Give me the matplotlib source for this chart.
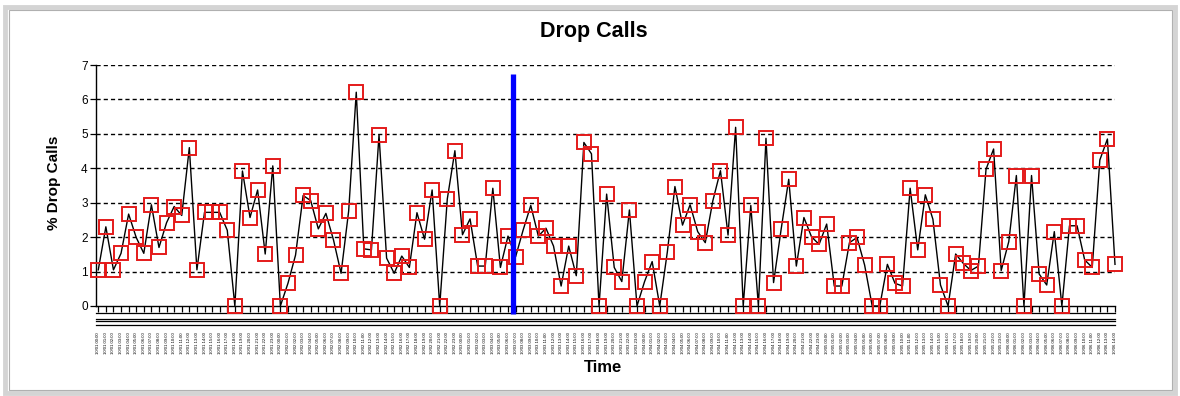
import numpy as np
import pandas as pd
import matplotlib
matplotlib.use('Agg')
import matplotlib.pyplot as plt
from matplotlib.patches import Rectangle

plt.rcParams['font.family'] = ['Liberation Sans', 'DejaVu Sans']

# % drop calls per time sample
drop_pct = [1.05, 2.3, 1.05, 1.53, 2.67, 1.99, 1.53, 2.94, 1.7, 2.42,
            2.89, 2.63, 4.6, 1.05, 2.72, 2.72, 2.72, 2.2, 0, 3.92,
            2.57, 3.37, 1.51, 4.07, 0, 0.66, 1.48, 3.21, 3.06, 2.24,
            2.69, 1.92, 0.95, 2.76, 6.21, 1.66, 1.63, 4.97, 1.39, 0.95,
            1.45, 1.12, 2.71, 1.94, 3.37, 0, 3.11, 4.51, 2.07, 2.53,
            1.16, 1.16, 3.42, 1.12, 2.03, 1.43, 2.21, 2.92, 2.03, 2.26,
            1.74, 0.58, 1.74, 0.88, 4.75, 4.42, 0, 3.25, 1.12, 0.71,
            2.79, 0, 0.71, 1.29, 0, 1.57, 3.47, 2.35, 2.94, 2.16,
            1.84, 3.06, 3.93, 2.06, 5.19, 0, 2.92, 0, 4.87, 0.68,
            2.23, 3.68, 1.16, 2.57, 2.01, 1.79, 2.38, 0.58, 0.58, 1.84,
            1.99, 1.19, 0, 0, 1.21, 0.66, 0.58, 3.42, 1.63, 3.23,
            2.52, 0.61, 0, 1.51, 1.24, 1.03, 1.16, 3.97, 4.56, 1.03,
            1.87, 3.79, 0, 3.79, 0.93, 0.61, 2.16, 0, 2.33, 2.33,
            1.34, 1.12, 4.24, 4.85, 1.21]

# time labels (unreadable in the original, hourly stamps)
time_labels = list(pd.date_range('2007-10-01 00:00', periods=len(drop_pct), freq='h').strftime('%m/%d %H:%M'))

# marker position of the blue vertical line (between samples 54 and 55)
marker_pos = 54.65
marker_top = 6.73
marker_bottom = -0.24

y_ticks = [0, 1, 2, 3, 4, 5, 6, 7]

W, H = 1180, 396
fig = plt.figure(figsize=(W / 100, H / 100), dpi=100)
fig.patch.set_facecolor('white')

# grey frame round the chart
fig.patches.append(Rectangle((5 / W, 3 / H), 1170 / W, 386 / H, transform=fig.transFigure,
                             fill=False, edgecolor='#d4d4d4', lw=3.5))
fig.patches.append(Rectangle((8.5 / W, 6 / H), 1163 / W, 380 / H, transform=fig.transFigure,
                             fill=False, edgecolor='#b0b0b0', lw=0.8))

ax = fig.add_axes([96 / W, 1 - 306 / H, (1115 - 96) / W, 241 / H])
x = np.arange(len(drop_pct))

ax.plot(x, drop_pct, color='black', lw=1.0, zorder=3, clip_on=False)
ax.plot(x, drop_pct, ls='none', marker='s', ms=9.6, mfc='none', mec='#e41a1a', mew=1.4,
        zorder=4, clip_on=False)

ax.vlines(marker_pos, marker_bottom, marker_top, color='#0000ff', lw=3.8, zorder=5, clip_on=False)

ax.set_xlim(-0.3, len(drop_pct) - 1)
ax.set_ylim(0, 7)
ax.set_yticks(y_ticks)
ax.set_yticklabels([str(t) for t in y_ticks], fontsize=8.5)
for t in y_ticks[1:]:
    ax.axhline(t, color='black', lw=1.0, ls=(0, (3.0, 2.2)), zorder=1)

ax.set_xticks(x)
ax.set_xticklabels(time_labels, rotation=90, fontsize=3.1, color='black')
ax.tick_params(axis='x', direction='out', length=4, width=0.9, pad=15)
ax.tick_params(axis='y', direction='out', length=4, width=0.9, pad=2)

for s in ['top', 'right']:
    ax.spines[s].set_visible(False)
ax.spines['left'].set_linewidth(1.0)
ax.spines['bottom'].set_linewidth(1.0)

# extra rule lines under the time axis
for yy in [-0.029, -0.052, -0.064, -0.08]:
    ax.plot([0, 1], [yy, yy], transform=ax.transAxes, color='black', lw=0.9, clip_on=False)

fig.text(594 / W, 1 - 32 / H, 'Drop Calls', fontsize=15.5, fontweight='bold', ha='center', va='center')
fig.text(54 / W, 1 - 183 / H, '% Drop Calls', fontsize=11, fontweight='bold', rotation=90,
         ha='center', va='center')
fig.text(603 / W, 1 - 367 / H, 'Time', fontsize=12, fontweight='bold', ha='center', va='center')

fig.savefig('out.png', dpi=100)
